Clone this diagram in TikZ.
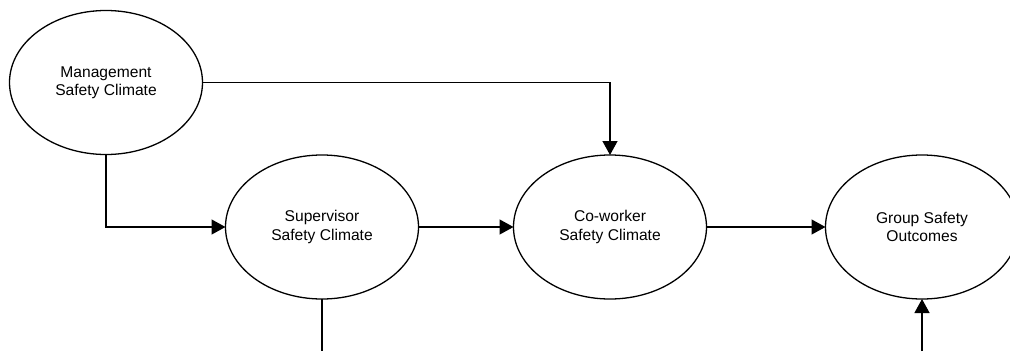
\documentclass[tikz,border=0pt]{standalone}
\usepackage{fontspec}
\setmainfont{Liberation Sans}
\usetikzlibrary{shapes.geometric,arrows.meta}
\begin{document}
\begin{tikzpicture}[x=1pt,y=-1pt,
  construct/.style={ellipse,draw,line width=1.3pt,minimum width=193pt,minimum height=144pt,
    inner sep=0pt,outer sep=0pt,align=center,
    font=\fontsize{15.6}{18.2}\selectfont},
  link/.style={line width=1.3pt,-{Triangle[length=14pt,width=15pt]}},
  plain/.style={line width=1.3pt}]
  \useasboundingbox (0,0) rectangle (1010,351);
  \clip (0,0) rectangle (1010,351);
  % latent constructs
  \node[construct] (mgmt) at (106,82.5) {\raisebox{-3pt}{\shortstack{Management\\Safety Climate}}};
  \node[construct] (sup)  at (322,227) {Supervisor\\Safety Climate};
  \node[construct] (cow)  at (610,227) {Co-worker\\Safety Climate};
  \node[construct] (grp)  at (922,227) {Group Safety\\Outcomes};
  % loose ends at the lower edge
  \coordinate (supend) at (322,351);
  \coordinate (grpstart) at (922,351);
  % paths between constructs
  \draw[link] (mgmt.east) -| (cow.north);
  \draw[link] (mgmt.south) |- (sup.west);
  \draw[link] (sup.east) -- (cow.west);
  \draw[link] (cow.east) -- (grp.west);
  \draw[plain] (sup.south) -- (supend);
  \draw[link] (grpstart) -- (grp.south);
\end{tikzpicture}
\end{document}
